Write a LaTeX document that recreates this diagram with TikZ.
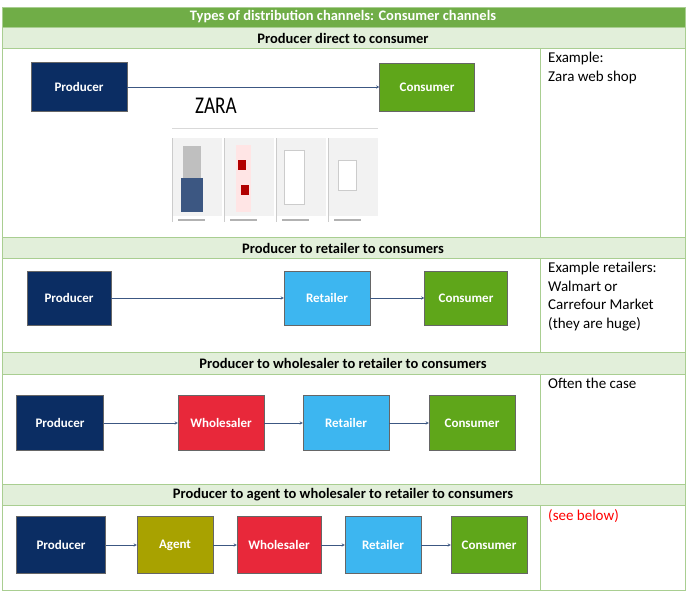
\documentclass[tikz,border=0pt]{standalone}
\usepackage{fontspec}
\setmainfont{Carlito}
\usetikzlibrary{positioning}
\definecolor{hdgreen}{HTML}{70AD47}
\definecolor{bandgreen}{HTML}{E2EFDA}
\definecolor{prodblue}{HTML}{0B2D63}
\definecolor{consgreen}{HTML}{5FA61A}
\definecolor{retblue}{HTML}{3DB6F0}
\definecolor{wholered}{HTML}{E8283A}
\definecolor{agentolive}{HTML}{A8A200}
\tikzset{
  box/.style={draw=black!60, text=white, font=\bfseries\fontsize{13}{15}\selectfont, minimum height=#1, inner sep=0pt},
  band/.style={fill=bandgreen, draw=hdgreen!60},
  bandtext/.style={font=\bfseries\fontsize{14.5}{16}\selectfont},
  note/.style={anchor=north west, align=left, font=\fontsize{15}{18.5}\selectfont, inner sep=0pt},
  flow/.style={->, >=stealth, draw=prodblue!80, thin},
}
\begin{document}
\begin{tikzpicture}[x=1pt,y=-1pt]
\useasboundingbox (0,0) rectangle (688,595);
\fill[white] (0,0) rectangle (688,595);
% table frame
\fill[hdgreen] (2,7) rectangle (685,27);
\node[text=white, bandtext] (title) at (343,17) {Types of distribution channels: Consumer channels};
\draw[band] (2,27) rectangle (685,48);
\draw[band] (2,237) rectangle (685,258);
\draw[band] (2,352) rectangle (685,374);
\draw[band] (2,484) rectangle (685,505);
\node[bandtext] (h1) at (343,38) {Producer direct to consumer};
\node[bandtext] (h2) at (343,248) {Producer to retailer to consumers};
\node[bandtext] (h3) at (343,363) {Producer to wholesaler to retailer to consumers};
\node[bandtext] (h4) at (343,495) {Producer to agent to wholesaler to retailer to consumers};
\draw[hdgreen!60] (2,7) rectangle (685,590);
\foreach \a/\b in {48/237,258/352,374/484,505/590}
  \draw[hdgreen!60] (540,\a) -- (540,\b);
% notes
\node[note] (n1) at (548,52) {Example:\\Zara web shop};
\node[note] (n2) at (548,262) {Example retailers:\\Walmart or\\Carrefour Market\\(they are huge)};
\node[note] (n3) at (548,378) {Often the case};
\node[note, text=red] (n4) at (548,509) {(see below)};

% row 1
\node[box=49pt, fill=prodblue, minimum width=96pt] (p1) at (79,87) {Producer};
\node[box=48pt, fill=consgreen, minimum width=95pt] (c1) at (427,87) {Consumer};
\draw[flow] (p1) -- (c1);
% screenshot
\fill[white] (172,95) rectangle (378,232);
\node[font=\fontsize{24}{24}\selectfont\rmfamily, xscale=0.8] (zara) at (216,106) {ZARA};
\draw[black!15] (172,128) -- (378,128);
\foreach \i in {0,1,2,3}{
  \fill[black!5] (172+\i*52,138) rectangle (222+\i*52,216);
  \draw[black!20] (172+\i*52,138) -- (172+\i*52,222);
  \fill[black!30] (178+\i*52,219) rectangle (205+\i*52,221);
}
\fill[black!25] (183,146) rectangle (201,178);
\fill[prodblue!80] (181,178) rectangle (203,212);
\fill[white!90!red] (236,145) rectangle (251,212);
\fill[red!70!black] (238,160) rectangle (246,170);
\fill[red!70!black] (241,185) rectangle (249,195);
\fill[white] (284,150) rectangle (304,204);
\draw[black!20] (284,150) rectangle (304,204);
\fill[white] (338,160) rectangle (356,190);
\draw[black!20] (338,160) rectangle (356,190);

% row 2
\node[box=54pt, fill=prodblue, minimum width=84pt] (p2) at (69,298) {Producer};
\node[box=54pt, fill=retblue, minimum width=86pt] (r2) at (327,298) {Retailer};
\node[box=54pt, fill=consgreen, minimum width=83pt] (c2) at (466,298) {Consumer};
\draw[flow] (p2) -- (r2);
\draw[flow] (r2) -- (c2);

% row 3
\node[box=55pt, fill=prodblue, minimum width=87pt] (p3) at (60,423) {Producer};
\node[box=55pt, fill=wholered, minimum width=86pt] (w3) at (221,423) {Wholesaler};
\node[box=55pt, fill=retblue, minimum width=86pt] (r3) at (346,423) {Retailer};
\node[box=55pt, fill=consgreen, minimum width=86pt] (c3) at (472,423) {Consumer};
\draw[flow] (p3) -- (w3);
\draw[flow] (w3) -- (r3);
\draw[flow] (r3) -- (c3);

% row 4
\node[box=57pt, fill=prodblue, minimum width=89pt] (p4) at (61,545) {Producer};
\node[box=57pt, fill=agentolive, minimum width=76pt] (a4) at (175,545) {Agent};
\node[box=57pt, fill=wholered, minimum width=84pt] (w4) at (279,545) {Wholesaler};
\node[box=57pt, fill=retblue, minimum width=76pt] (r4) at (383,545) {Retailer};
\node[box=57pt, fill=consgreen, minimum width=76pt] (c4) at (489,545) {Consumer};
\draw[flow] (p4) -- (a4);
\draw[flow] (a4) -- (w4);
\draw[flow] (w4) -- (r4);
\draw[flow] (r4) -- (c4);
\end{tikzpicture}
\end{document}
